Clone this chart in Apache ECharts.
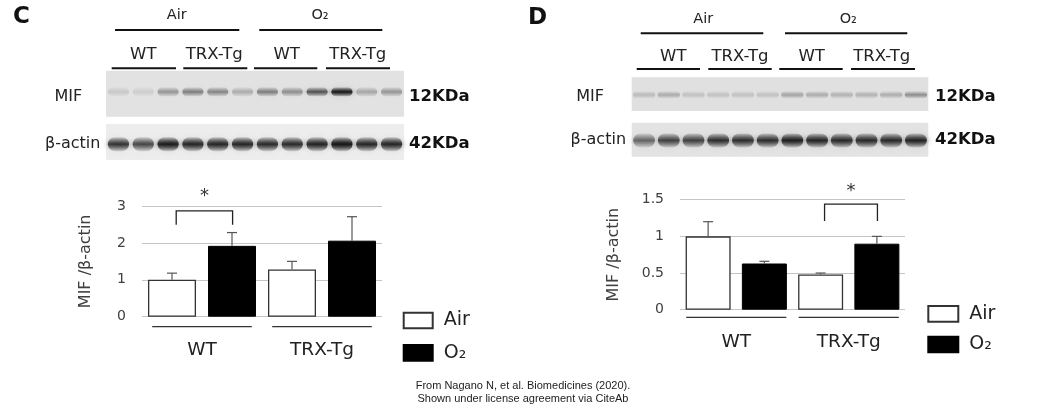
<!DOCTYPE html>
<html><head><meta charset="utf-8">
<script src="https://cdn.jsdelivr.net/npm/echarts@6/dist/echarts.min.js"></script>
<style>html,body{margin:0;padding:0;background:#fff}#c{width:1044px;height:410px}</style>
</head><body><div id="c"></div>
<script>
// ---------- data ----------
const categories = ['WT', 'TRX-Tg'];
const seriesNames = ['Air', 'O₂'];
// Panel C (MIF / beta-actin)
const airC = [1.0, 1.28];
const airCErr = [0.18, 0.22];
const o2C = [1.92, 2.06];
const o2CErr = [0.36, 0.65];
// Panel D
const airD = [1.0, 0.48];
const airDErr = [0.2, 0.02];
const o2D = [0.63, 0.90];
const o2DErr = [0.03, 0.10];
// axis ticks
const yMaxC = 3, yStepC = 1;
const yMaxD = 1.5, yStepD = 0.5;
// blot lanes and band intensities (0..1)
const lanes = ['1','2','3','4','5','6','7','8','9','10','11','12'];
const mifC   = [0.12, 0.10, 0.35, 0.45, 0.42, 0.25, 0.45, 0.38, 0.65, 0.98, 0.28, 0.35];
const actinC = [0.80, 0.70, 0.95, 0.88, 0.88, 0.88, 0.85, 0.85, 0.90, 1.00, 0.88, 0.88];
const mifD   = [0.18, 0.25, 0.15, 0.15, 0.15, 0.15, 0.28, 0.25, 0.22, 0.22, 0.24, 0.38];
const actinD = [0.55, 0.72, 0.72, 0.82, 0.82, 0.82, 0.92, 0.88, 0.85, 0.85, 0.85, 0.90];
// significance annotations: [category, bracket top, leg bottom, star level]
const sigC = [[0, 2.87, 2.49, 3.25]];
const sigD = [[1, 1.44, 1.21, 1.61]];

// ---------- helpers ----------
const FONT = 'DejaVu Sans';
function errRender(sign) {
  return function (params, api) {
    const i = api.value(0), m = api.value(1), e = api.value(2);
    const bw = api.size([1, 0])[0];
    const p0 = api.coord([i, m]), p1 = api.coord([i, m + e]);
    const x = p0[0] + sign * bw * 0.25;
    const st = { stroke: '#555', lineWidth: 1.2 };
    return { type: 'group', children: [
      { type: 'line', shape: { x1: x, y1: p0[1], x2: x, y2: p1[1] }, style: st },
      { type: 'line', shape: { x1: x - 5, y1: p1[1], x2: x + 5, y2: p1[1] }, style: st }
    ]};
  };
}
function underRender(frac, off) {
  return function (params, api) {
    const p = api.coord([api.value(0), 0]);
    const w = api.size([1, 0])[0] * frac;
    return { type: 'line', shape: { x1: p[0] - w / 2, y1: p[1] + off, x2: p[0] + w / 2, y2: p[1] + off },
      style: { stroke: '#333', lineWidth: 1.3 } };
  };
}
function sigRender(params, api) {
  const i = api.value(0), top = api.value(1), leg = api.value(2), star = api.value(3);
  const bw = api.size([1, 0])[0];
  const c = api.coord([i, top]);
  const yl = api.coord([i, leg])[1];
  const ys = api.coord([i, star])[1];
  const xl = c[0] - bw * 0.215, xr = c[0] + bw * 0.255;
  return { type: 'group', children: [
    { type: 'polyline', shape: { points: [[xl, yl], [xl, c[1]], [xr, c[1]], [xr, yl]] },
      style: { stroke: '#222', lineWidth: 1.3, fill: null } },
    { type: 'text', x: (xl + xr) / 2, y: ys, style: { text: '*', fontSize: 18, fontFamily: FONT,
      fill: '#333', align: 'center', verticalAlign: 'middle' } }
  ]};
}
function blotRender(cfg) {
  return function (params, api) {
    const cs = params.coordSys;
    const x = api.coord([api.value(0), 0])[0];
    const a = api.value(1);
    const w = api.size([1, 0])[0] * cfg.w;
    const h = cfg.h;
    const cy = cs.y + cs.height * cfg.fy;
    const col = (al) => 'rgba(22,22,22,' + al.toFixed(3) + ')';
    return { type: 'rect', shape: { x: x - w / 2, y: cy - h / 2, width: w, height: h, r: h / 2 },
      style: { fill: { type: 'linear', x: 0, y: 0, x2: 0, y2: 1, colorStops: [
        { offset: 0, color: col(a * 0.15) }, { offset: 0.5, color: col(a) }, { offset: 1, color: col(a * 0.15) } ] },
        shadowBlur: 7, shadowColor: col(a * 0.6) } };
  };
}

// ---------- grids ----------
const grids = [
  { left: 142, top: 206, width: 240, height: 110.7 },                 // 0 bar C
  { left: 680, top: 199.7, width: 225, height: 110 },                 // 1 bar D
  { left: 106, top: 70.7, width: 298, height: 46, show: true, backgroundColor: '#e2e2e2', borderWidth: 0 }, // 2
  { left: 106, top: 124, width: 298, height: 36, show: true, backgroundColor: '#ededed', borderWidth: 0 },  // 3
  { left: 631.7, top: 77.3, width: 296.6, height: 33.7, show: true, backgroundColor: '#e0e0e0', borderWidth: 0 }, // 4
  { left: 631.7, top: 122.7, width: 296.6, height: 34, show: true, backgroundColor: '#e3e3e3', borderWidth: 0 }   // 5
];
const barX = (gi, margin) => ({ type: 'category', gridIndex: gi, data: categories,
  axisLine: { show: false }, axisTick: { show: false },
  axisLabel: { fontSize: 18.5, color: '#222', margin: margin, fontFamily: FONT } });
const barY = (gi, max, step, gap) => ({ type: 'value', gridIndex: gi, min: 0, max: max, interval: step,
  name: 'MIF /β-actin', nameLocation: 'middle', nameRotate: 90, nameGap: gap,
  nameTextStyle: { fontSize: 16, color: '#404040', fontFamily: FONT },
  axisLine: { show: false }, axisTick: { show: false },
  axisLabel: { fontSize: 14, color: '#404040', margin: 16, fontFamily: FONT },
  splitLine: { lineStyle: { color: '#c4c4c4', width: 1.2 } } });
const blotX = (gi) => ({ type: 'category', gridIndex: gi, data: lanes, show: false });
const blotY = (gi) => ({ type: 'value', gridIndex: gi, min: 0, max: 1, show: false });

const airStyle = { color: '#fff', borderColor: '#333', borderWidth: 1.3 };
const o2Style = { color: '#000', borderColor: '#000', borderWidth: 1 };

const series = [
  { name: seriesNames[0], type: 'bar', xAxisIndex: 0, yAxisIndex: 0, data: airC, barWidth: '40%', barGap: '25%', itemStyle: airStyle },
  { name: seriesNames[1], type: 'bar', xAxisIndex: 0, yAxisIndex: 0, data: o2C, barWidth: '40%', barGap: '25%', itemStyle: o2Style },
  { name: seriesNames[0], type: 'bar', xAxisIndex: 1, yAxisIndex: 1, data: airD, barWidth: '40%', barGap: '25%', itemStyle: airStyle },
  { name: seriesNames[1], type: 'bar', xAxisIndex: 1, yAxisIndex: 1, data: o2D, barWidth: '40%', barGap: '25%', itemStyle: o2Style },
  { name: 'errAirC', type: 'custom', xAxisIndex: 0, yAxisIndex: 0, renderItem: errRender(-1), z: 5,
    data: airC.map((v, i) => [i, v, airCErr[i]]), encode: { x: 0, y: 1 } },
  { name: 'errO2C', type: 'custom', xAxisIndex: 0, yAxisIndex: 0, renderItem: errRender(1), z: 5,
    data: o2C.map((v, i) => [i, v, o2CErr[i]]), encode: { x: 0, y: 1 } },
  { name: 'errAirD', type: 'custom', xAxisIndex: 1, yAxisIndex: 1, renderItem: errRender(-1), z: 5,
    data: airD.map((v, i) => [i, v, airDErr[i]]), encode: { x: 0, y: 1 } },
  { name: 'errO2D', type: 'custom', xAxisIndex: 1, yAxisIndex: 1, renderItem: errRender(1), z: 5,
    data: o2D.map((v, i) => [i, v, o2DErr[i]]), encode: { x: 0, y: 1 } },
  { name: 'underC', type: 'custom', xAxisIndex: 0, yAxisIndex: 0, renderItem: underRender(0.83, 10), clip: false,
    data: categories.map((c, i) => [i, 0]), encode: { x: 0, y: 1 } },
  { name: 'underD', type: 'custom', xAxisIndex: 1, yAxisIndex: 1, renderItem: underRender(0.89, 7.6), clip: false,
    data: categories.map((c, i) => [i, 0]), encode: { x: 0, y: 1 } },
  { name: 'sigC', type: 'custom', xAxisIndex: 0, yAxisIndex: 0, renderItem: sigRender, clip: false, z: 6,
    data: sigC, encode: { x: 0, y: 1 } },
  { name: 'sigD', type: 'custom', xAxisIndex: 1, yAxisIndex: 1, renderItem: sigRender, clip: false, z: 6,
    data: sigD, encode: { x: 0, y: 1 } },
  { name: 'blotMifC', type: 'custom', xAxisIndex: 2, yAxisIndex: 2, renderItem: blotRender({ w: 0.85, h: 9, fy: 0.46 }),
    data: mifC.map((v, i) => [i, v]), encode: { x: 0, y: 1 } },
  { name: 'blotActC', type: 'custom', xAxisIndex: 3, yAxisIndex: 3, renderItem: blotRender({ w: 0.85, h: 14, fy: 0.56 }),
    data: actinC.map((v, i) => [i, v]), encode: { x: 0, y: 1 } },
  { name: 'blotMifD', type: 'custom', xAxisIndex: 4, yAxisIndex: 4, renderItem: blotRender({ w: 0.9, h: 7, fy: 0.52 }),
    data: mifD.map((v, i) => [i, v]), encode: { x: 0, y: 1 } },
  { name: 'blotActD', type: 'custom', xAxisIndex: 5, yAxisIndex: 5, renderItem: blotRender({ w: 0.88, h: 14, fy: 0.52 }),
    data: actinD.map((v, i) => [i, v]), encode: { x: 0, y: 1 } }
];

const legendBase = { orient: 'vertical', padding: 0, data: seriesNames, icon: 'rect', selectedMode: false,
  textStyle: { fontSize: 19, color: '#222', lineHeight: 16, padding: [0, 0, 0, 6], fontFamily: FONT } };

// ---------- header annotations ----------
function txt(x, y, s, size, opts) {
  return { type: 'text', x: x, y: y, style: Object.assign({ text: s, fontSize: size, fontFamily: FONT,
    fill: '#222', align: 'center', verticalAlign: 'middle' }, opts || {}) };
}
function hline(x1, x2, y, w) {
  return { type: 'line', shape: { x1: x1, y1: y, x2: x2, y2: y }, style: { stroke: '#111', lineWidth: w || 2 } };
}
const graphic = [
  // panel C
  txt(13, 17, 'C', 23, { fontWeight: 'bold', align: 'left', fill: '#111' }),
  txt(176.7, 15.5, 'Air', 14.5), hline(115, 239.3, 30),
  txt(320, 15.5, 'O₂', 14.5), hline(259.3, 382.3, 30),
  txt(143.3, 55, 'WT', 16.5), hline(111.7, 176, 68.3),
  txt(214.3, 55, 'TRX-Tg', 16.5), hline(183.3, 247.3, 68.3),
  txt(286.7, 55, 'WT', 16.5), hline(254, 317.3, 68.3),
  txt(357.7, 55, 'TRX-Tg', 16.5), hline(326, 390, 68.3),
  txt(68.3, 96.7, 'MIF', 16),
  txt(409, 96.7, '12KDa', 16.5, { align: 'left', fontWeight: 'bold', fill: '#111' }),
  txt(45, 144, 'β-actin', 16, { align: 'left' }),
  txt(409, 144, '42KDa', 16.5, { align: 'left', fontWeight: 'bold', fill: '#111' }),
  // panel D
  txt(528, 18, 'D', 23, { fontWeight: 'bold', align: 'left', fill: '#111' }),
  txt(703.3, 19, 'Air', 14.5), hline(640.7, 763.3, 33.3),
  txt(848.3, 19, 'O₂', 14.5), hline(785, 907.3, 33.3),
  txt(673.3, 56.7, 'WT', 16.5), hline(636.7, 700, 69),
  txt(740, 56.7, 'TRX-Tg', 16.5), hline(708.3, 771.7, 69),
  txt(811.7, 56.7, 'WT', 16.5), hline(779.3, 842.7, 69),
  txt(881.7, 56.7, 'TRX-Tg', 16.5), hline(851, 915, 69),
  txt(590, 96.7, 'MIF', 16),
  txt(935, 97, '12KDa', 16.5, { align: 'left', fontWeight: 'bold', fill: '#111' }),
  txt(598.3, 140, 'β-actin', 16),
  txt(935, 140, '42KDa', 16.5, { align: 'left', fontWeight: 'bold', fill: '#111' }),
  // footer
  txt(523, 386, 'From Nagano N, et al. Biomedicines (2020).', 11, { fontFamily: 'Liberation Sans, Arial', fill: '#222' }),
  txt(523, 399, 'Shown under license agreement via CiteAb', 11, { fontFamily: 'Liberation Sans, Arial', fill: '#222' })
];

const chart = echarts.init(document.getElementById('c'), null, { renderer: 'canvas' });
chart.setOption({
  animation: false,
  backgroundColor: '#fff',
  textStyle: { fontFamily: FONT },
  grid: grids,
  xAxis: [barX(0, 24), barX(1, 23), blotX(2), blotX(3), blotX(4), blotX(5)],
  yAxis: [barY(0, yMaxC, yStepC, 48), barY(1, yMaxD, yStepD, 58), blotY(2), blotY(3), blotY(4), blotY(5)],
  legend: [
    Object.assign({}, legendBase, { left: 402.7, top: 311, itemWidth: 29, itemHeight: 15.7, itemGap: 13.3 }),
    Object.assign({}, legendBase, { left: 927.3, top: 304.3, itemWidth: 30, itemHeight: 15.7, itemGap: 11.7 })
  ],
  series: series,
  graphic: graphic
});
</script>
</body></html>
